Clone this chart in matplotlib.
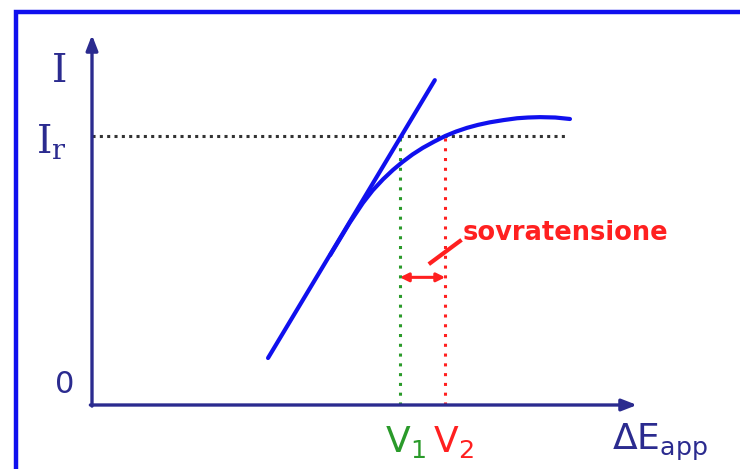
import numpy as np
import matplotlib.pyplot as plt
from matplotlib.patches import Rectangle

# sketch units: origin at the axes corner, both axes run to 10
I_r = 7.27
V1 = 5.65
V2 = 6.48
tangent_x = [3.23, 6.29]
tangent_y = [1.27, 8.78]
curve_x = [4.37, 4.73, 4.97, 5.15, 5.34, 5.52, 5.69, 5.88, 6.07, 6.28,
           6.48, 6.68, 6.88, 7.08, 7.30, 7.55, 7.80, 8.00, 8.22, 8.50, 8.77]
curve_y = [4.05, 4.93, 5.46, 5.80, 6.10, 6.35, 6.56, 6.77, 6.95, 7.12,
           7.27, 7.39, 7.49, 7.57, 7.64, 7.70, 7.75, 7.77, 7.78, 7.77, 7.73]
x_end, y_end = 10.0, 10.0

AXIS_C = '#2b2b8f'
BLUE = '#1010ee'
GREEN = '#2a9a2a'
RED = '#ff2020'

fig = plt.figure(figsize=(7.4, 4.69), dpi=100)
ax = fig.add_axes([0, 0, 1, 1])
ax.set_xlim(-92 / 54.5, (740 - 92) / 54.5)
ax.set_ylim(-(469 - 405) / 37, 405 / 37)
ax.axis('off')

# outer blue frame, runs off the right and bottom edge
ax.add_patch(Rectangle((16 / 740, -0.2), 1.2, 1.2 - 12 / 469,
                       transform=ax.transAxes, fill=False, ec=BLUE, lw=3.2,
                       clip_on=False))

# axes with arrow heads
arrow = dict(arrowstyle='-|>,head_length=0.9,head_width=0.35', color=AXIS_C,
             lw=2.4, shrinkA=0, shrinkB=0)
ax.annotate('', xy=(0, y_end), xytext=(0, -0.03), arrowprops=arrow)
ax.annotate('', xy=(x_end, 0), xytext=(-0.03, 0), arrowprops=arrow)

# guide lines
ax.plot([0, 8.70], [I_r, I_r], color='#333333', lw=2.2, ls=(0, (1, 1.4)))
ax.plot([V1, V1], [0, I_r], color=GREEN, lw=2.2, ls=(0, (1, 2.2)))
ax.plot([V2, V2], [0, I_r], color=RED, lw=2.2, ls=(0, (1, 2.2)))

# tangent and polarisation curve
ax.plot(tangent_x, tangent_y, color=BLUE, lw=3, solid_capstyle='round')
ax.plot(curve_x, curve_y, color=BLUE, lw=3, solid_capstyle='round',
        solid_joinstyle='round')

# overvoltage marker
ax.annotate('', xy=(V1, 3.45), xytext=(V2, 3.45),
            arrowprops=dict(arrowstyle='<|-|>,head_length=0.5,head_width=0.25',
                            color=RED, lw=2.2, shrinkA=0, shrinkB=0))
ax.plot([6.21, 6.75], [3.84, 4.43], color=RED, lw=3)
ax.text(6.8, 4.66, 'sovratensione', color=RED, fontsize=18.5, fontweight='bold',
        va='center', ha='left')

# labels
ax.text(-0.6, 9.0, 'I', color=AXIS_C, fontsize=28, ha='center', va='center',
        family='DejaVu Serif')
ax.text(-0.75, 7.1, r'I$_\mathregular{r}$', color=AXIS_C, fontsize=28,
        ha='center', va='center', family='DejaVu Serif')
ax.text(-0.5, 0.55, '0', color=AXIS_C, fontsize=22, ha='center', va='center')
ax.text(V1 + 0.1, -1.0, r'$\mathregular{V_1}$', color=GREEN, fontsize=26,
        ha='center', va='center')
ax.text(V2 + 0.15, -1.0, r'$\mathregular{V_2}$', color=RED, fontsize=26,
        ha='center', va='center')
ax.text(10.42, -1.0, r'$\mathregular{\Delta E_{app}}$', color=AXIS_C,
        fontsize=26, ha='center', va='center')

fig.savefig('out.png', dpi=100)
